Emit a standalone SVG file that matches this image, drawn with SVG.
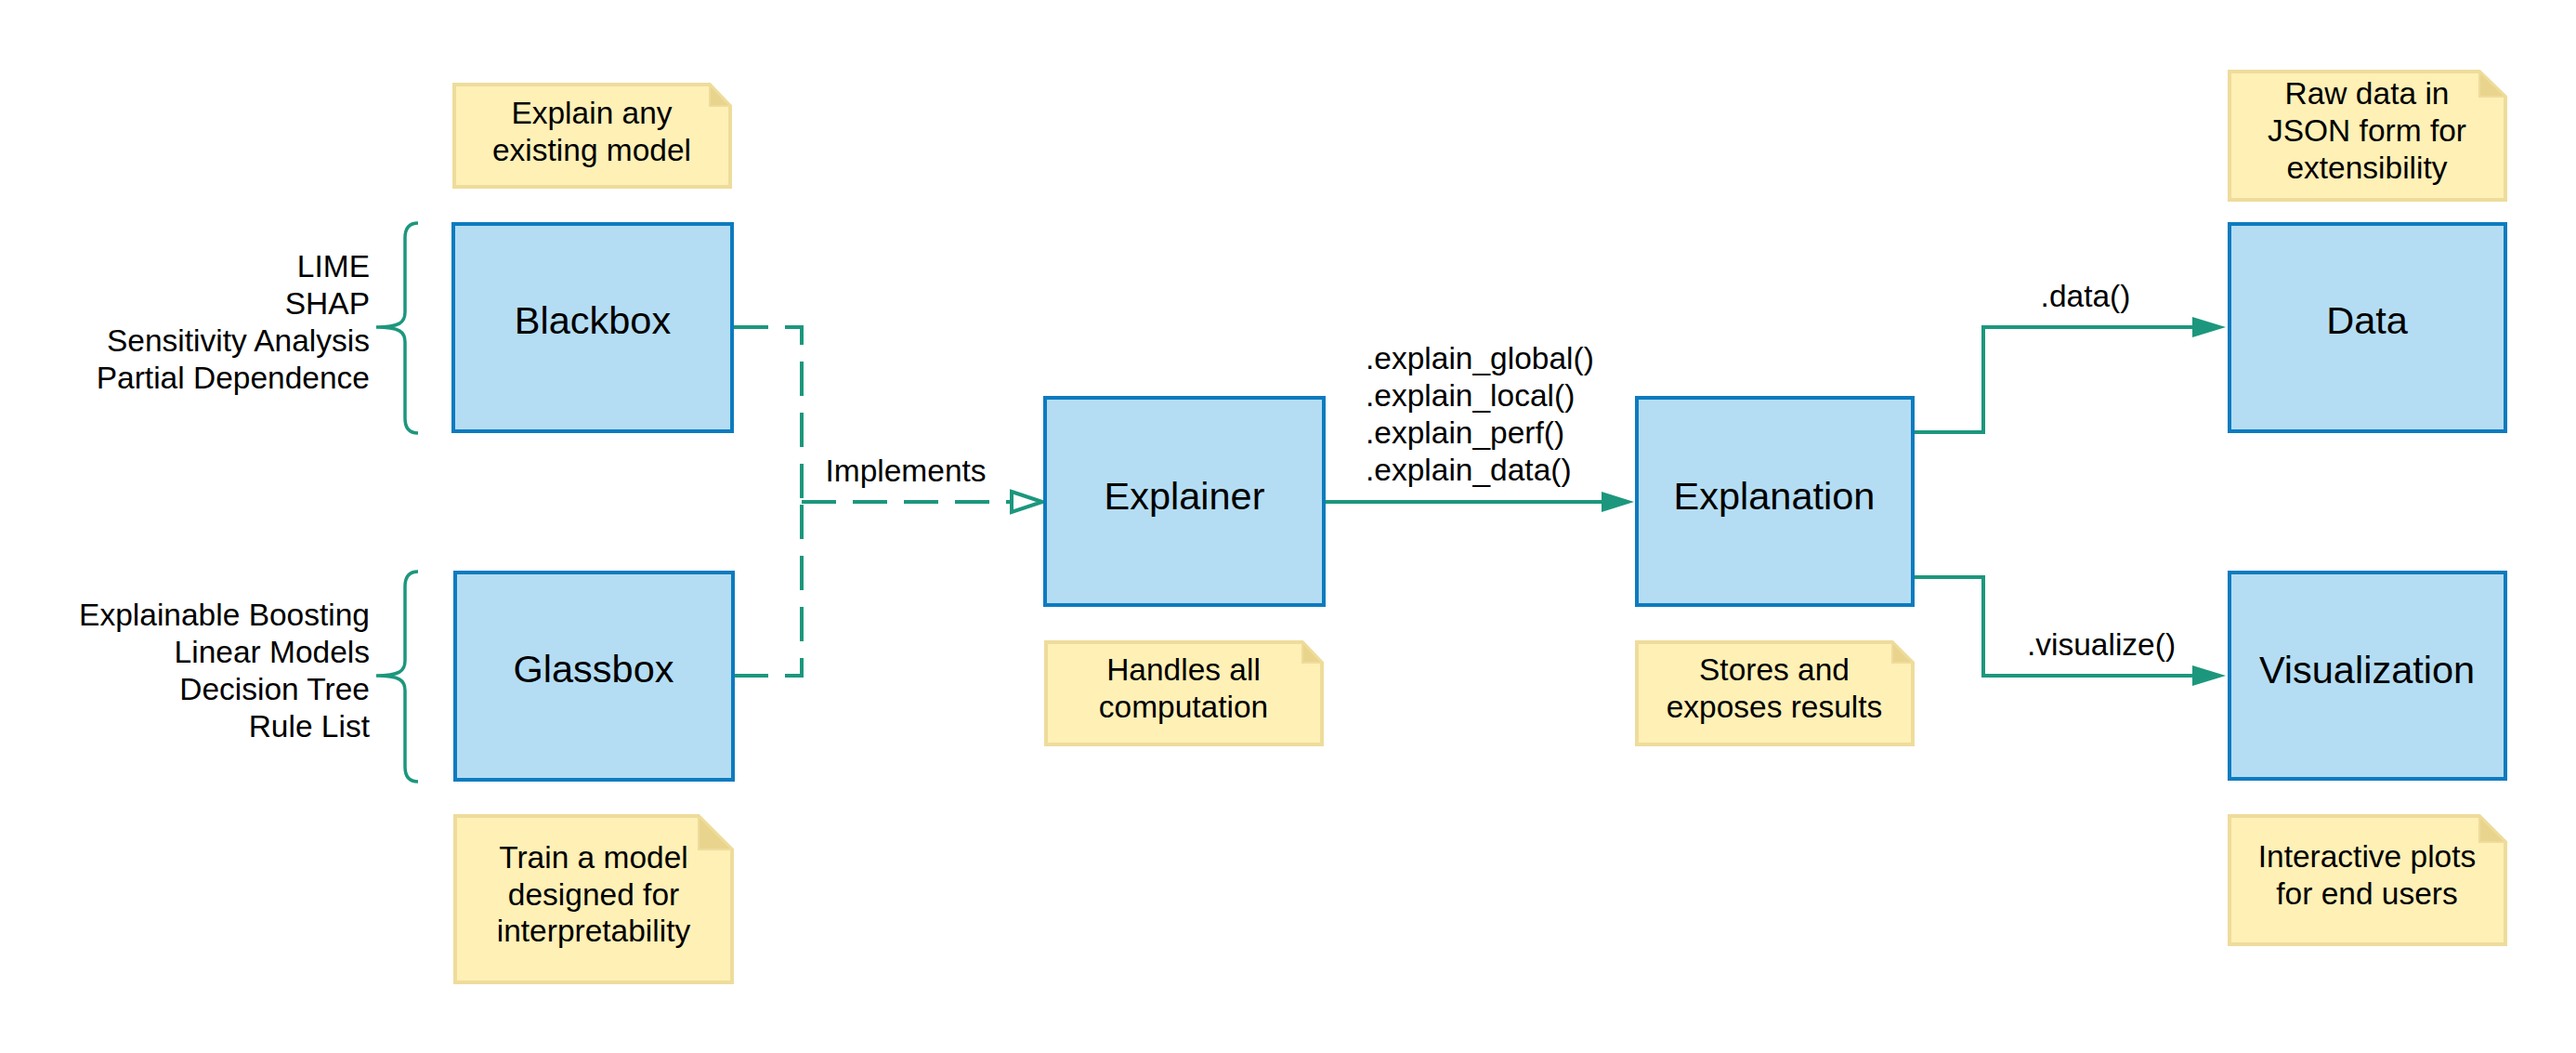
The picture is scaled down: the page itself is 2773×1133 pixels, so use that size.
<svg xmlns="http://www.w3.org/2000/svg" width="2773" height="1133" viewBox="0 0 2773 1133">
<style>
.box{fill:#B4DDF3;stroke:#0D7BBF;stroke-width:4}
.note{fill:#FFF0B6;stroke:#EEDC9B;stroke-width:4;stroke-linejoin:miter}
.fold{fill:#E9D48E;stroke:#EEDC9B;stroke-width:2}
.lbl{font-family:"Liberation Sans",Arial,sans-serif;font-size:41.5px;fill:#000;text-anchor:middle}
.txt{font-family:"Liberation Sans",Arial,sans-serif;font-size:33.5px;fill:#000}
.mid{text-anchor:middle}
.end{text-anchor:end}
.conn{fill:none;stroke:#1C977D;stroke-width:4}
.dash{stroke-dasharray:37 18}
.brace{fill:none;stroke:#1C977D;stroke-width:3.5}
</style>
<rect width="2773" height="1133" fill="#fff"/>
<g id="connectors">
<path class="conn dash" d="M790,352 H863 V540"/>
<path class="conn dash" d="M790,727 H863 V540"/>
<path class="conn dash" d="M863,540 H1090"/>
<polygon points="1089,529 1122,540 1089,551" fill="#fff" stroke="#1C977D" stroke-width="4"/>
<path class="conn" d="M1427,540 H1726"/>
<polygon points="1724,529 1759,540 1724,551" fill="#1C977D"/>
<path class="conn" d="M2061,465 H2135 V352 H2362"/>
<polygon points="2360,341 2396,352 2360,363" fill="#1C977D"/>
<path class="conn" d="M2061,621 H2135 V727 H2362"/>
<polygon points="2360,716 2396,727 2360,738" fill="#1C977D"/>
<text class="txt mid" x="975" y="518">Implements</text>
<text class="txt" x="1470" y="397">.explain_global()</text>
<text class="txt" x="1470" y="437">.explain_local()</text>
<text class="txt" x="1470" y="477">.explain_perf()</text>
<text class="txt" x="1470" y="517">.explain_data()</text>
<text class="txt mid" x="2245" y="330">.data()</text>
<text class="txt mid" x="2262" y="705">.visualize()</text>
</g>
<g id="blackbox-list">
<path class="brace" d="M450,240 C440,240 436,246 436,256 L436,336 C436,347 430,352 405,352 C430,352 436,357 436,368 L436,450 C436,460 440,466 450,466"/>
<text class="txt end" x="398" y="298">LIME</text>
<text class="txt end" x="398" y="338">SHAP</text>
<text class="txt end" x="398" y="378">Sensitivity Analysis</text>
<text class="txt end" x="398" y="418">Partial Dependence</text>
</g>
<g id="glassbox-list">
<path class="brace" d="M450,615 C440,615 436,621 436,631 L436,711 C436,722 430,727 405,727 C430,727 436,732 436,743 L436,825 C436,835 440,841 450,841"/>
<text class="txt end" x="398" y="673">Explainable Boosting</text>
<text class="txt end" x="398" y="713">Linear Models</text>
<text class="txt end" x="398" y="753">Decision Tree</text>
<text class="txt end" x="398" y="793">Rule List</text>
</g>
<g id="blackbox">
<rect class="box" x="488" y="241" width="300" height="223"/>
<text class="lbl" x="638" y="359">Blackbox</text>
</g>
<g id="glassbox">
<rect class="box" x="490" y="616" width="299" height="223"/>
<text class="lbl" x="639" y="734">Glassbox</text>
</g>
<g id="explainer">
<rect class="box" x="1125" y="428" width="300" height="223"/>
<text class="lbl" x="1275" y="548">Explainer</text>
</g>
<g id="explanation">
<rect class="box" x="1762" y="428" width="297" height="223"/>
<text class="lbl" x="1910" y="548">Explanation</text>
</g>
<g id="data">
<rect class="box" x="2400" y="241" width="297" height="223"/>
<text class="lbl" x="2548" y="359">Data</text>
</g>
<g id="visualization">
<rect class="box" x="2400" y="616" width="297" height="222"/>
<text class="lbl" x="2548" y="735">Visualization</text>
</g>
<g id="note-blackbox">
<path class="note" d="M489,91 H764 L786,114 V201 H489 Z"/>
<path class="fold" d="M764,91 V114 H786 Z"/>
<text class="txt mid" x="637" y="133">Explain any</text>
<text class="txt mid" x="637" y="173">existing model</text>
</g>
<g id="note-glassbox">
<path class="note" d="M490,878 H752 L788,914 V1057 H490 Z"/>
<path class="fold" d="M752,878 V914 H788 Z"/>
<text class="txt mid" x="639" y="934">Train a model</text>
<text class="txt mid" x="639" y="974">designed for</text>
<text class="txt mid" x="639" y="1013">interpretability</text>
</g>
<g id="note-explainer">
<path class="note" d="M1126,691 H1402 L1423,713 V801 H1126 Z"/>
<path class="fold" d="M1402,691 V713 H1423 Z"/>
<text class="txt mid" x="1274" y="732">Handles all</text>
<text class="txt mid" x="1274" y="772">computation</text>
</g>
<g id="note-explanation">
<path class="note" d="M1762,691 H2037 L2059,713 V801 H1762 Z"/>
<path class="fold" d="M2037,691 V713 H2059 Z"/>
<text class="txt mid" x="1910" y="732">Stores and</text>
<text class="txt mid" x="1910" y="772">exposes results</text>
</g>
<g id="note-data">
<path class="note" d="M2400,77 H2669 L2697,104 V215 H2400 Z"/>
<path class="fold" d="M2669,77 V104 H2697 Z"/>
<text class="txt mid" x="2548" y="112">Raw data in</text>
<text class="txt mid" x="2548" y="152">JSON form for</text>
<text class="txt mid" x="2548" y="192">extensibility</text>
</g>
<g id="note-visualization">
<path class="note" d="M2400,878 H2669 L2697,906 V1016 H2400 Z"/>
<path class="fold" d="M2669,878 V906 H2697 Z"/>
<text class="txt mid" x="2548" y="933">Interactive plots</text>
<text class="txt mid" x="2548" y="973">for end users</text>
</g>
</svg>
